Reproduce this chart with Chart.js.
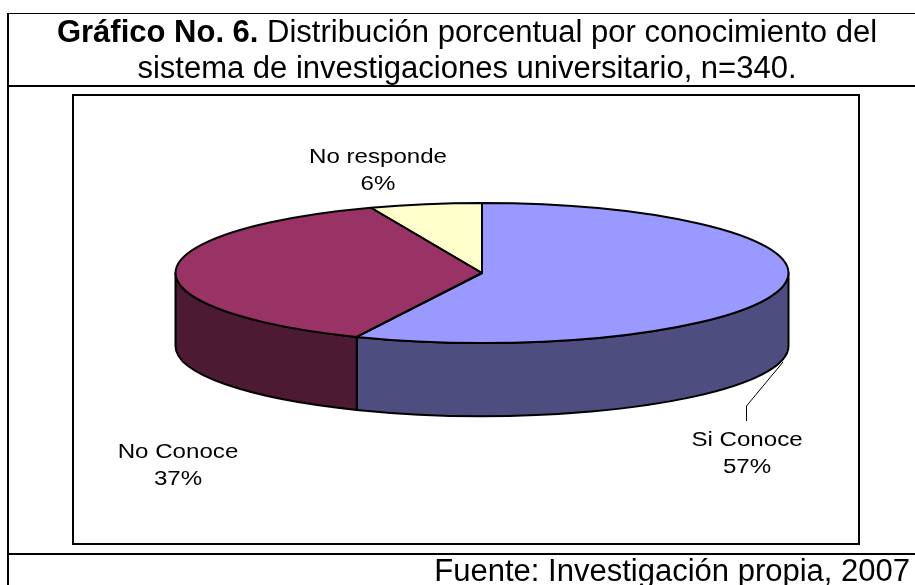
<!DOCTYPE html>
<html lang="es">
<head>
<meta charset="utf-8">
<title>Gráfico No. 6</title>
<script src="https://cdn.jsdelivr.net/npm/chart.js@4"></script>
<style>
html,body{margin:0;padding:0;background:#fff;width:915px;height:585px;overflow:hidden;font-family:"Liberation Sans",Arial,sans-serif;color:#000}
#wrap{position:relative;width:915px;height:585px;overflow:hidden}
#wrap canvas{position:absolute;left:0;top:0}
.rule{position:absolute;background:#000}
.t{position:absolute;white-space:nowrap;font-size:31px;line-height:36px;text-align:center}
</style>
</head>
<body>
<div id="wrap">
  <canvas id="c" width="915" height="585"></canvas>
  <div class="rule" style="left:7px;top:13px;width:908px;height:1px"></div>
  <div class="rule" style="left:7px;top:13px;width:2px;height:572px"></div>
  <div class="rule" style="left:7px;top:85px;width:908px;height:2px"></div>
  <div class="rule" style="left:7px;top:553px;width:908px;height:2px"></div>
  <div class="rule" style="left:72px;top:94px;width:788px;height:2px"></div>
  <div class="rule" style="left:72px;top:543px;width:788px;height:2px"></div>
  <div class="rule" style="left:72px;top:94px;width:2px;height:451px"></div>
  <div class="rule" style="left:858px;top:94px;width:2px;height:451px"></div>
  <div class="t" style="left:0;width:934px;top:14px"><b>Gráfico No. 6.</b> Distribución porcentual por conocimiento del</div>
  <div class="t" style="left:0;width:934px;top:50px">sistema de investigaciones universitario, n=340.</div>
  <div class="t" style="right:5px;top:553px">Fuente: Investigación propia, 2007</div>
</div>
<script>
const categories = ['Si Conoce', 'No Conoce', 'No responde'];
const percentValues = [56.7, 37.4, 5.9];
const topColors = ['#9999FF', '#993366', '#FFFFCC'];
const wallColors = ['#4D4D80', '#4D1A33', '#808066'];

const squash = 70 / 306.5;
const wallDepth = 73;
const labelPlaces = [[747, 446], [178, 458], [378, 163]];

function arcPath(ctx, a) {
  const ry = a.outerRadius * squash;
  ctx.beginPath();
  ctx.moveTo(a.x, a.y);
  ctx.ellipse(a.x, a.y, a.outerRadius, ry, 0, a.startAngle, a.endAngle);
  ctx.closePath();
}

const pie3d = {
  id: 'pie3d',
  beforeDatasetsDraw(chart) {
    const ctx = chart.ctx;
    const arcs = chart.getDatasetMeta(0).data;
    ctx.save();
    ctx.lineWidth = 2;
    ctx.strokeStyle = '#000';
    ctx.lineJoin = 'round';
    arcs.forEach((a, i) => {
      const from = Math.max(a.startAngle, 0);
      const to = Math.min(a.endAngle, Math.PI);
      if (to <= from) return;
      const ry = a.outerRadius * squash;
      ctx.beginPath();
      ctx.ellipse(a.x, a.y, a.outerRadius, ry, 0, from, to);
      ctx.ellipse(a.x, a.y + wallDepth, a.outerRadius, ry, 0, to, from, true);
      ctx.closePath();
      ctx.fillStyle = wallColors[i];
      ctx.fill();
      ctx.stroke();
    });
    ctx.restore();
    const first = arcs[0];
    ctx.save();
    ctx.translate(first.x, first.y);
    ctx.scale(1, squash);
    ctx.translate(-first.x, -first.y);
  },
  afterDatasetsDraw(chart) {
    const ctx = chart.ctx;
    ctx.restore();
    const arcs = chart.getDatasetMeta(0).data;
    ctx.save();
    ctx.lineWidth = 2;
    ctx.strokeStyle = '#000';
    ctx.lineJoin = 'round';
    arcs.forEach(a => { arcPath(ctx, a); ctx.stroke(); });
    ctx.restore();

    // leader line for the first slice
    ctx.save();
    ctx.lineWidth = 1;
    ctx.strokeStyle = '#000';
    ctx.beginPath();
    ctx.moveTo(783, 362);
    ctx.lineTo(746.5, 406);
    ctx.lineTo(746.5, 421);
    ctx.stroke();
    ctx.restore();

    // data labels
    ctx.save();
    ctx.fillStyle = '#000';
    ctx.textAlign = 'center';
    ctx.textBaseline = 'alphabetic';
    ctx.font = '19.3px "Liberation Sans", Arial, sans-serif';
    categories.forEach((name, i) => {
      const [x, y] = labelPlaces[i];
      ctx.save();
      ctx.translate(x, y);
      ctx.scale(1.25, 1);
      ctx.fillText(name, 0, 0);
      ctx.fillText(Math.round(percentValues[i]) + '%', 0, 27);
      ctx.restore();
    });
    ctx.restore();
  }
};

new Chart(document.getElementById('c'), {
  type: 'pie',
  data: {
    labels: categories,
    datasets: [{ data: percentValues, backgroundColor: topColors, borderWidth: 0 }]
  },
  options: {
    responsive: false,
    animation: false,
    events: [],
    radius: 306.5,
    layout: { padding: { left: 49, bottom: 39 } },
    plugins: { legend: { display: false }, tooltip: { enabled: false }, title: { display: false } }
  },
  plugins: [pie3d]
});
</script>
</body>
</html>
